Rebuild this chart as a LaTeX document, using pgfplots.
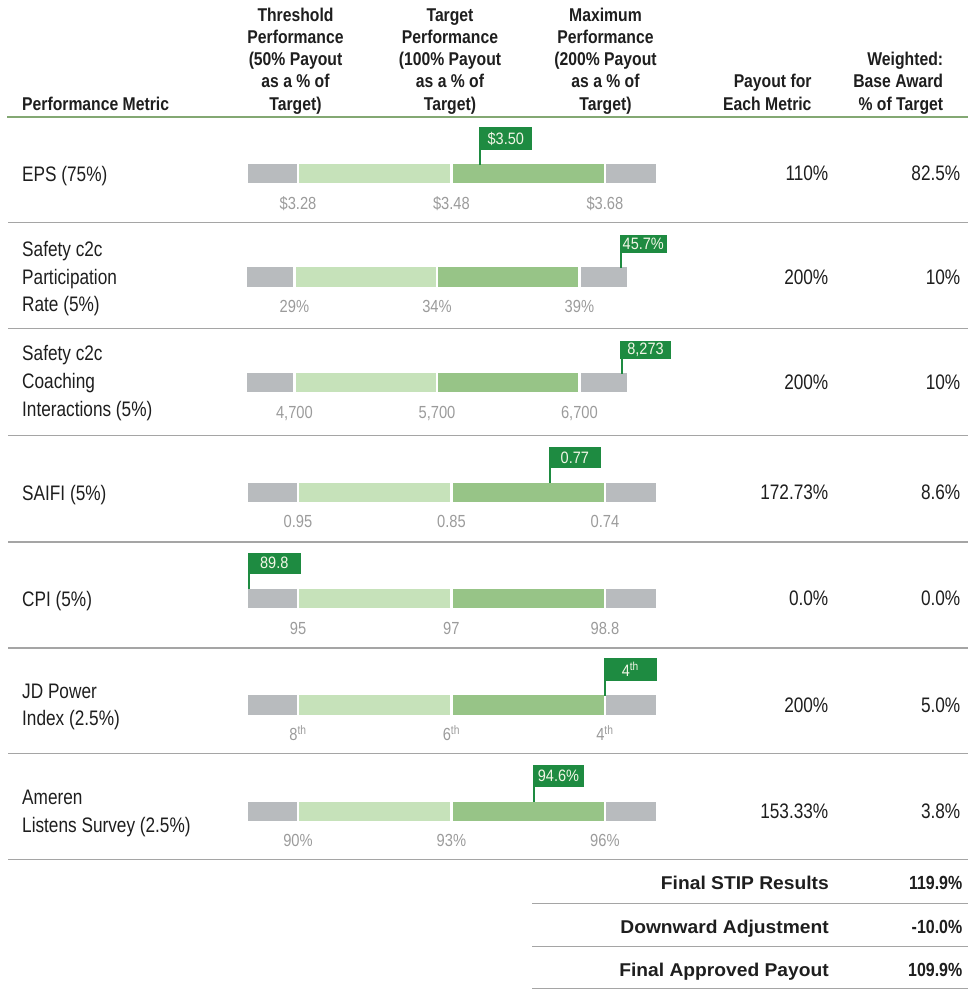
\documentclass[border=0pt]{standalone}
\usepackage{fontspec}
\setmainfont{Liberation Sans}
\usepackage{pgfplots}
\usepackage{pgfplotstable}
\pgfplotsset{compat=1.18}
\newfontfamily\bodyf[FakeStretch=0.82]{Liberation Sans}
\newfontfamily\headf[FakeStretch=0.85]{Liberation Sans}
\newfontfamily\footf[FakeStretch=1.04]{Liberation Sans}
\newfontfamily\footn[FakeStretch=0.84]{Liberation Sans}
\newfontfamily\tickf[FakeStretch=0.84]{Liberation Sans}
\newfontfamily\callf[FakeStretch=0.88]{Liberation Sans}
\definecolor{cgray}{HTML}{B8BBBE}
\definecolor{clight}{HTML}{C6E2BA}
\definecolor{cmid}{HTML}{97C487}
\definecolor{cdark}{HTML}{1E8B41}
\definecolor{crule}{HTML}{83A873}
\definecolor{csep}{HTML}{A5A5A5}
\definecolor{ctick}{HTML}{9B9B9B}
\definecolor{ctext}{HTML}{1E1E1E}
\definecolor{ccall}{HTML}{F2F6E6}

\pgfplotstableread{
y off g1 lg dg g2
173.8 246.25 51.75 153.4 153.5 52.05
277.0 246.05 48.35 142.6 142.4 48.55
382.7 246.05 48.35 142.6 142.4 48.55
492.4 246.25 51.75 153.4 153.5 52.05
598.5 246.25 51.75 153.4 153.5 52.05
705.0 246.25 51.75 153.4 153.5 52.05
811.4 246.25 51.75 153.4 153.5 52.05
}\bars

\newcommand{\HB}[3]{\node[anchor=base,inner sep=0,text=ctext,font=\headf\bfseries\fontsize{18.5}{22}\selectfont] at (axis cs:#1,#2) {#3};}
\newcommand{\HE}[3]{\node[anchor=base east,inner sep=0,text=ctext,font=\headf\bfseries\fontsize{18.5}{22}\selectfont] at (axis cs:#1,#2) {#3};}
\newcommand{\BW}[2]{\node[anchor=base west,inner sep=0,text=ctext,font=\bodyf\fontsize{21}{25}\selectfont] at (axis cs:22,#1) {#2};}
\newcommand{\BE}[3]{\node[anchor=base east,inner sep=0,text=ctext,font=\bodyf\fontsize{21}{25}\selectfont] at (axis cs:#1,#2) {#3};}
\newcommand{\TK}[3]{\node[anchor=base,inner sep=0,text=ctick,font=\tickf\fontsize{17.5}{20}\selectfont] at (axis cs:#1,#2) {#3};}
\newcommand{\CL}[3]{\node[anchor=center,inner sep=0,text=ccall,font=\callf\fontsize{16.5}{19}\selectfont] at (axis cs:#1,#2) {#3};}
\newcommand{\FL}[2]{\node[anchor=base east,inner sep=0,text=ctext,font=\footf\bfseries\fontsize{18.5}{22}\selectfont] at (axis cs:829,#1) {#2};}
\newcommand{\FN}[2]{\node[anchor=base east,inner sep=0,text=ctext,font=\footn\bfseries\fontsize{19}{22}\selectfont] at (axis cs:962.5,#1) {#2};}

\begin{document}
\begin{tikzpicture}
% ---------- bars ----------
\begin{axis}[
  width=972pt, height=998pt, scale only axis,
  xmin=0, xmax=972, ymin=0, ymax=998, y dir=reverse,
  hide axis, clip=false,
  xbar stacked, bar width=21.8pt,
]
\addplot[draw=none, fill=none] table[x=off,y=y]{\bars};
\addplot[fill=cgray, draw=white, line width=2.5pt] table[x=g1,y=y]{\bars};
\addplot[fill=clight, draw=white, line width=2.5pt] table[x=lg,y=y]{\bars};
\addplot[fill=cmid, draw=white, line width=2.5pt] table[x=dg,y=y]{\bars};
\addplot[fill=cgray, draw=white, line width=2.5pt] table[x=g2,y=y]{\bars};
\end{axis}
% ---------- everything else ----------
\begin{axis}[
  width=972pt, height=998pt, scale only axis,
  xmin=0, xmax=972, ymin=0, ymax=998, y dir=reverse,
  hide axis, clip=false,
]
\path (rel axis cs:0,0) rectangle (rel axis cs:1,1);
% rules
\addplot[crule, line width=2pt] coordinates {(7.3,116.8)(968,116.8)};
\addplot[csep, line width=1.6pt] coordinates {(8,222.5)(968,222.5)};
\addplot[csep, line width=1.6pt] coordinates {(8,328.5)(968,328.5)};
\addplot[csep, line width=1.6pt] coordinates {(8,435.5)(968,435.5)};
\addplot[csep, line width=1.6pt] coordinates {(8,541.7)(968,541.7)};
\addplot[csep, line width=1.6pt] coordinates {(8,647.7)(968,647.7)};
\addplot[csep, line width=1.6pt] coordinates {(8,753.3)(968,753.3)};
\addplot[csep, line width=1.6pt] coordinates {(8,859.3)(968,859.3)};
\addplot[csep, line width=1.6pt] coordinates {(532,903.5)(968,903.5)};
\addplot[csep, line width=1.6pt] coordinates {(532,946.5)(968,946.5)};
\addplot[csep, line width=1.6pt] coordinates {(532,988.5)(968,988.5)};
% callout stems
\addplot[cdark, line width=2pt] coordinates {(480.3,164.5)(480.3,149)};
\addplot[cdark, line width=2pt] coordinates {(621.3,268)(621.3,252)};
\addplot[cdark, line width=2pt] coordinates {(621.8,373.5)(621.8,358)};
\addplot[cdark, line width=2pt] coordinates {(550,483)(550,467)};
\addplot[cdark, line width=2pt] coordinates {(248.8,589)(248.8,573)};
\addplot[cdark, line width=2pt] coordinates {(605,695.5)(605,679.5)};
\addplot[cdark, line width=2pt] coordinates {(533.5,802)(533.5,786)};
% callout boxes
\addplot[fill=cdark, draw=none] coordinates {(479.3,150)(532.3,150)(532.3,127.3)(479.3,127.3)} -- cycle;
\addplot[fill=cdark, draw=none] coordinates {(620,253.3)(666.7,253.3)(666.7,235)(620,235)} -- cycle;
\addplot[fill=cdark, draw=none] coordinates {(620,359)(671,359)(671,341)(620,341)} -- cycle;
\addplot[fill=cdark, draw=none] coordinates {(548.7,468.3)(601,468.3)(601,446.7)(548.7,446.7)} -- cycle;
\addplot[fill=cdark, draw=none] coordinates {(248,574)(300.7,574)(300.7,552.7)(248,552.7)} -- cycle;
\addplot[fill=cdark, draw=none] coordinates {(604,680.7)(656.7,680.7)(656.7,658)(604,658)} -- cycle;
\addplot[fill=cdark, draw=none] coordinates {(532.7,786.7)(584.3,786.7)(584.3,765)(532.7,765)} -- cycle;
\CL{505.8}{138.6}{\$3.50}
\CL{643.3}{244.2}{45.7\%}
\CL{645.5}{350}{8,273}
\CL{574.8}{457.5}{0.77}
\CL{274.3}{563.3}{89.8}
\CL{630.3}{669.3}{4\textsuperscript{th}}
\CL{558.5}{775.8}{94.6\%}
% header
\node[anchor=base west,inner sep=0,text=ctext,font=\headf\bfseries\fontsize{18.5}{22}\selectfont] at (axis cs:22,110) {Performance Metric};
\HB{295.5}{21.7}{Threshold}\HB{295.5}{43.8}{Performance}\HB{295.5}{66}{(50\% Payout}\HB{295.5}{88}{as a \% of}\HB{295.5}{110}{Target)}
\HB{450}{21.7}{Target}\HB{450}{43.8}{Performance}\HB{450}{66}{(100\% Payout}\HB{450}{88}{as a \% of}\HB{450}{110}{Target)}
\HB{605.5}{21.7}{Maximum}\HB{605.5}{43.8}{Performance}\HB{605.5}{66}{(200\% Payout}\HB{605.5}{88}{as a \% of}\HB{605.5}{110}{Target)}
\HE{811.7}{88}{Payout for}\HE{811.7}{110}{Each Metric}
\HE{943.3}{66}{Weighted:}\HE{943.3}{88}{Base Award}\HE{943.3}{110}{\% of Target}
% row labels
\BW{181.5}{EPS (75\%)}
\BW{256.8}{Safety c2c}\BW{284.3}{Participation}\BW{311.8}{Rate (5\%)}
\BW{360.5}{Safety c2c}\BW{388.5}{Coaching}\BW{416.5}{Interactions (5\%)}
\BW{500}{SAIFI (5\%)}
\BW{606}{CPI (5\%)}
\BW{698}{JD Power}\BW{725.5}{Index (2.5\%)}
\BW{804.5}{Ameren}\BW{832}{Listens Survey (2.5\%)}
% values
\BE{828.5}{180.5}{110\%}\BE{960.5}{180.5}{82.5\%}
\BE{828.5}{284}{200\%}\BE{960.5}{284}{10\%}
\BE{828.5}{389.5}{200\%}\BE{960.5}{389.5}{10\%}
\BE{828.5}{499.5}{172.73\%}\BE{960.5}{499.5}{8.6\%}
\BE{828.5}{605.5}{0.0\%}\BE{960.5}{605.5}{0.0\%}
\BE{828.5}{712}{200\%}\BE{960.5}{712}{5.0\%}
\BE{828.5}{818.5}{153.33\%}\BE{960.5}{818.5}{3.8\%}
% tick labels
\TK{298}{209.3}{\$3.28}\TK{451.4}{209.3}{\$3.48}\TK{604.9}{209.3}{\$3.68}
\TK{294.4}{312.5}{29\%}\TK{437}{312.5}{34\%}\TK{579.4}{312.5}{39\%}
\TK{294.4}{418.2}{4,700}\TK{437}{418.2}{5,700}\TK{579.4}{418.2}{6,700}
\TK{298}{527.9}{0.95}\TK{451.4}{527.9}{0.85}\TK{604.9}{527.9}{0.74}
\TK{298}{634}{95}\TK{451.4}{634}{97}\TK{604.9}{634}{98.8}
\TK{298}{740.5}{8\textsuperscript{th}}\TK{451.4}{740.5}{6\textsuperscript{th}}\TK{604.9}{740.5}{4\textsuperscript{th}}
\TK{298}{846.9}{90\%}\TK{451.4}{846.9}{93\%}\TK{604.9}{846.9}{96\%}
% footer
\FL{889.6}{Final STIP Results}\FN{889.6}{119.9\%}
\FL{933.3}{Downward Adjustment}\FN{933.3}{-10.0\%}
\FL{976.6}{Final Approved Payout}\FN{976.6}{109.9\%}
\end{axis}
\end{tikzpicture}
\end{document}
